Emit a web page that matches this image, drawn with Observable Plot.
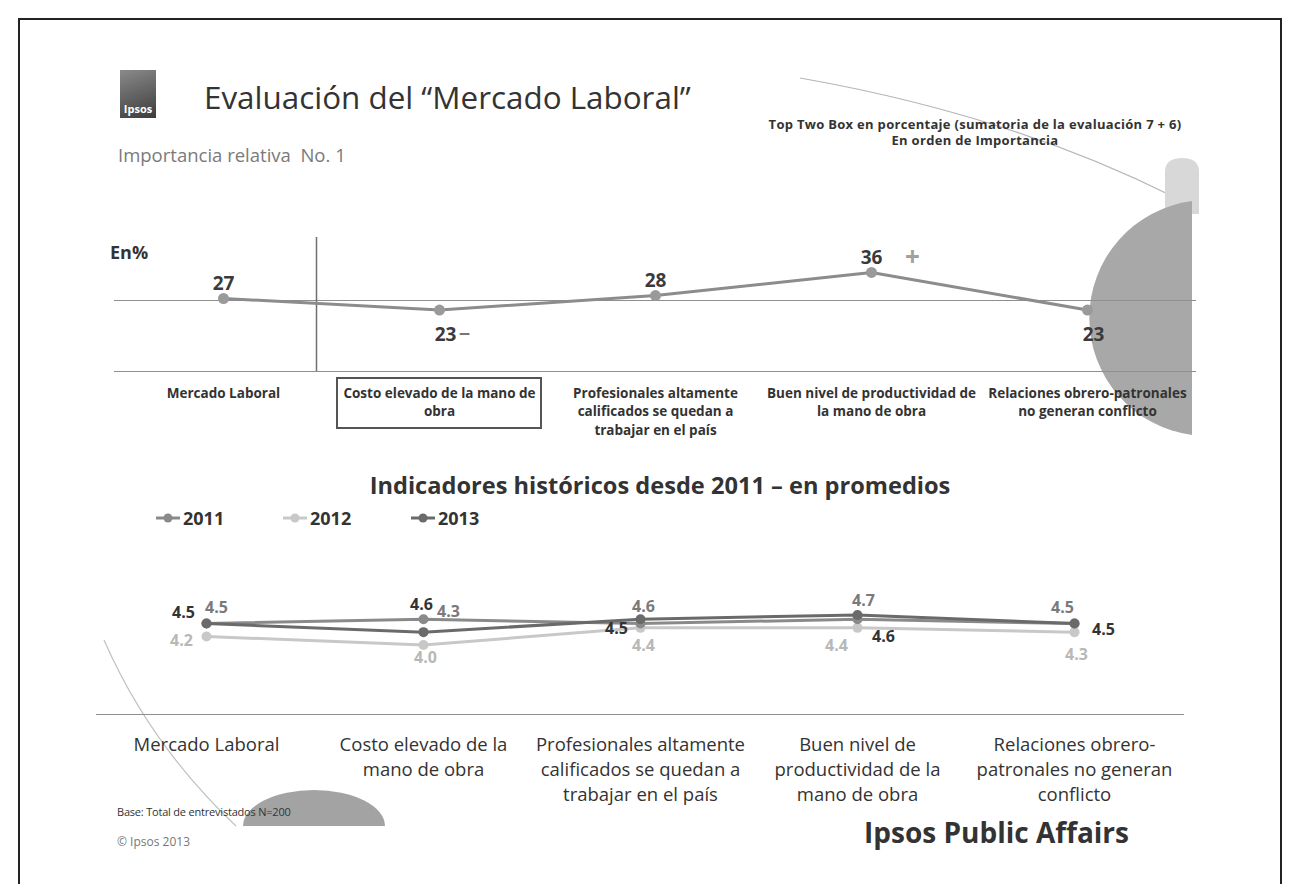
<!DOCTYPE html>
<html><head><meta charset="utf-8">
<script src="https://cdn.jsdelivr.net/npm/d3@7"></script>
<script src="https://cdn.jsdelivr.net/npm/@observablehq/plot@0.6"></script>
<style>
body{margin:0;background:#fff;}
#page{position:relative;width:1297px;height:884px;overflow:hidden;font-family:"Open Sans",sans-serif;color:#333;background:#fff;}
.abs{position:absolute;white-space:nowrap;}
svg{overflow:visible;}
</style></head><body><div id="page">
<div class="abs" style="left:18px;top:18px;width:1260px;height:900px;border:2px solid #222;border-bottom:none;"></div>
<!-- decorations -->
<svg class="abs" style="left:0;top:0;" width="1297" height="884">
  <path d="M800,78 Q1010,115 1172,196" fill="none" stroke="#b5b5b5" stroke-width="1.2"/>
  <path d="M104,640 Q150,745 236,826" fill="none" stroke="#c0c0c0" stroke-width="1.2"/>
  <path d="M1165,214 L1165,172 Q1165,158 1182,158 Q1199,158 1199,172 L1199,214 Z" fill="#d8d8d8"/>
  <path d="M1192,201 A118,118 0 0 0 1192,435 Z" fill="#a8a8a8"/>
  <path d="M243,826 A71,36 0 0 1 385,826 Z" fill="#a3a3a3"/>
</svg>
<!-- logo -->
<div class="abs" style="left:120px;top:70px;width:36px;height:48px;background:linear-gradient(160deg,#8a8a8a,#3c3c3c);"></div>
<div class="abs" style="left:120px;top:101px;width:36px;text-align:center;color:#fff;font-weight:bold;font-size:11px;line-height:16px;">Ipsos</div>
<div class="abs" style="left:204px;top:76px;font-size:31.4px;line-height:42px;color:#333;">Evaluación del “Mercado Laboral”</div>
<div class="abs" style="left:118px;top:142px;font-size:18.5px;line-height:26px;color:#7a7a7a;">Importancia relativa&nbsp; No. 1</div>
<div class="abs" style="left:725px;top:116px;width:500px;text-align:center;font-size:13px;line-height:16px;font-weight:bold;color:#333;letter-spacing:0.3px;">Top Two Box en porcentaje (sumatoria de la evaluación 7 + 6)<br>En orden de Importancia</div>
<div class="abs" style="left:110px;top:239px;font-size:18px;line-height:26px;font-weight:bold;color:#333;">En%</div>
<div class="abs" style="left:336px;top:377px;width:202px;height:48px;border:2px solid #555;"></div>
<div id="top" class="abs" style="left:0;top:230px;"></div>
<div class="abs" style="left:260px;top:469px;width:800px;text-align:center;font-size:23.6px;line-height:32px;font-weight:bold;color:#333;">Indicadores históricos desde 2011 – en promedios</div>
<div id="legend" class="abs" style="left:155px;top:506px;height:24px;"></div>
<div id="bottom" class="abs" style="left:0;top:560px;"></div>
<div class="abs" style="left:117px;top:805px;font-size:11px;line-height:14px;color:#333;letter-spacing:-0.2px;">Base: Total de entrevistados N=200</div>
<div class="abs" style="left:117px;top:834px;font-size:12px;line-height:16px;color:#777;">© Ipsos 2013</div>
<div class="abs" style="left:864px;top:814px;font-size:28px;line-height:36px;font-weight:bold;color:#333;">Ipsos Public Affairs</div>
</div>
<script>
// ---- data ----
const categories = ["Mercado Laboral","Costo elevado de la mano de obra","Profesionales altamente calificados se quedan a trabajar en el país","Buen nivel de productividad de la mano de obra","Relaciones obrero-patronales no generan conflicto"];
const topValues = [27, 23, 28, 36, 23];
const topSignificance = ["", "−", "", "+", ""];
const topTickLabels = ["Mercado Laboral","Costo elevado de la mano de\nobra","Profesionales altamente\ncalificados se quedan a\ntrabajar en el país","Buen nivel de productividad de\nla mano de obra","Relaciones obrero-patronales\nno generan conflicto"];
const years = ["2011", "2012", "2013"];
const values2011 = [4.5, 4.6, 4.5, 4.6, 4.5];
const values2012 = [4.2, 4.0, 4.4, 4.4, 4.3];
const values2013 = [4.5, 4.3, 4.6, 4.7, 4.5];
const bottomTickLabels = ["Mercado Laboral","Costo elevado de la\nmano de obra","Profesionales altamente\ncalificados se quedan a\ntrabajar en el país","Buen nivel de\nproductividad de la\nmano de obra","Relaciones obrero-\npatronales no generan\nconflicto"];

const FONT = '"Open Sans", sans-serif';

// ---- top chart ----
const topData = categories.map((c, i) => ({cat: c, value: topValues[i], sig: topSignificance[i]}));
const topYMin = 1.74, topYMax = 48.1, topRef = 26.3;
const topTick = new Map(categories.map((c, i) => [c, topTickLabels[i]]));
const topPlot = Plot.plot({
  width: 1297, height: 210,
  marginLeft: 114, marginRight: 101, marginTop: 7, marginBottom: 69,
  style: {fontFamily: FONT, background: "transparent", overflow: "visible"},
  x: {type: "point", domain: categories, padding: 0.5, axis: null},
  y: {domain: [topYMin, topYMax], axis: null},
  marks: [
    Plot.ruleY([topRef], {stroke: "#8f8f8f", strokeWidth: 1.2}),
    Plot.ruleY([topYMin], {stroke: "#8f8f8f", strokeWidth: 1.2}),
    Plot.ruleX([categories[0]], {stroke: "#6f6f6f", strokeWidth: 1.5, dx: 93}),
    Plot.line(topData, {x: "cat", y: "value", stroke: "#8c8c8c", strokeWidth: 3}),
    Plot.dot(topData, {x: "cat", y: "value", r: 5.5, fill: "#9a9a9a"}),
    Plot.text(topData.filter(d => d.value >= topRef), {x: "cat", y: "value", text: d => String(d.value), dy: -15, dx: 0, fontSize: 19, fontWeight: "bold", fill: "#3a3a3a"}),
    Plot.text(topData.filter(d => d.value < topRef), {x: "cat", y: "value", text: d => String(d.value), dy: 25, dx: 6, fontSize: 19, fontWeight: "bold", fill: "#3a3a3a"}),
    Plot.text(topData.filter(d => d.sig && d.value >= topRef), {x: "cat", y: "value", text: "sig", dy: -15, dx: 41, fontSize: 26, fontWeight: "bold", fill: "#a0a0a0"}),
    Plot.text(topData.filter(d => d.sig && d.value < topRef), {x: "cat", y: "value", text: "sig", dy: 25, dx: 25, fontSize: 20, fontWeight: "bold", fill: "#777"}),
    Plot.axisX({label: null, tickSize: 0, tickPadding: 13, tickFormat: d => topTick.get(d), fontSize: 13.5, fontWeight: "bold", fill: "#333", lineHeight: 1.37, textAnchor: "middle", lineAnchor: "top"})
  ]
});
document.getElementById("top").appendChild(topPlot);

// ---- bottom chart ----
const seriesValues = {"2011": values2011, "2012": values2012, "2013": values2013};
const seriesColor = {"2011": "#8a8a8a", "2012": "#c8c8c8", "2013": "#6a6a6a"};
const labelColor = {"2011": "#333333", "2012": "#b8b8b8", "2013": "#7a7a7a"};
// label offsets (dx, dy) per point, mimicking the original label placement
const labelOffsets = {
  "2011": [[-23, -11], [-2, -14], [-24, 5], [26, 18], [29, 6]],
  "2012": [[-25, 4], [2, 13], [3, 18], [-21, 18], [2, 23]],
  "2013": [[10, -16], [25, -20], [3, -12], [6, -14], [-12, -16]]
};
const long = years.flatMap(y => categories.map((c, i) => ({year: y, cat: c, i, value: seriesValues[y][i]})));
const botYMin = 2.38, botYMax = 5.97;
const botTick = new Map(categories.map((c, i) => [c, bottomTickLabels[i]]));
const drawOrder = ["2012", "2011", "2013"];
const botMarks = [Plot.ruleY([botYMin], {stroke: "#8f8f8f", strokeWidth: 1.2})];
for (const y of drawOrder) {
  const d = long.filter(e => e.year === y);
  botMarks.push(Plot.line(d, {x: "cat", y: "value", stroke: seriesColor[y], strokeWidth: 3}));
  botMarks.push(Plot.dot(d, {x: "cat", y: "value", r: 5, fill: seriesColor[y]}));
}
for (const y of years) {
  long.filter(e => e.year === y).forEach(e => {
    const [dx, dy] = labelOffsets[y][e.i];
    botMarks.push(Plot.text([e], {x: "cat", y: "value", text: d => d.value.toFixed(1), dx, dy, fontSize: 16, fontWeight: "bold", fill: labelColor[y]}));
  });
}
botMarks.push(Plot.axisX({label: null, tickSize: 0, tickPadding: 19, tickFormat: d => botTick.get(d), fontSize: 18.5, fill: "#333", lineHeight: 1.35, textAnchor: "middle", lineAnchor: "top"}));
const botPlot = Plot.plot({
  width: 1297, height: 260,
  marginLeft: 96, marginRight: 113, marginTop: 0, marginBottom: 106,
  style: {fontFamily: FONT, background: "transparent", overflow: "visible"},
  x: {type: "point", domain: categories, padding: 0.5, axis: null},
  y: {domain: [botYMin, botYMax], axis: null},
  marks: botMarks
});
document.getElementById("bottom").appendChild(botPlot);

// ---- legend ----
const legend = document.getElementById("legend");
const legendX = [0, 127, 255];
years.forEach((y, k) => {
  const item = document.createElement("div");
  item.className = "abs";
  item.style.cssText = `left:${legendX[k]}px;top:0;height:24px;display:flex;align-items:center;`;
  item.innerHTML = `<svg width="26" height="24"><line x1="1" x2="25" y1="12" y2="12" stroke="${seriesColor[y]}" stroke-width="3"/><circle cx="13" cy="12" r="4.5" fill="${seriesColor[y]}"/></svg><span style="font-weight:bold;font-size:18px;color:#333;margin-left:2px;">${y}</span>`;
  legend.appendChild(item);
});
</script>
</body></html>
